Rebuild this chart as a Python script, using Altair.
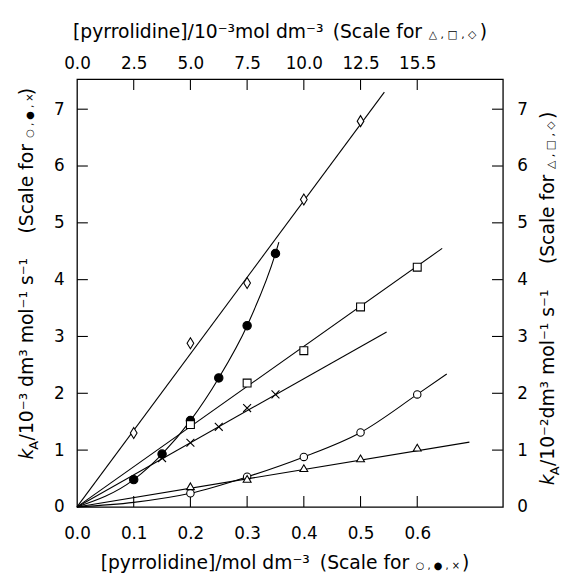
import altair as alt
import pandas as pd

# ---- data ----
# bottom / left scales (open circle, filled circle, cross)
circle_x = [0.2, 0.3, 0.4, 0.5, 0.6]
circle_y = [0.24, 0.53, 0.88, 1.31, 1.98]
dot_x = [0.1, 0.15, 0.2, 0.25, 0.3, 0.35]
dot_y = [0.48, 0.93, 1.52, 2.27, 3.19, 4.46]
cross_x = [0.15, 0.2, 0.25, 0.3, 0.35]
cross_y = [0.86, 1.13, 1.41, 1.74, 1.98]
# top / right scales (triangle, square, diamond)
tri_x = [5.0, 7.5, 10.0, 12.5, 15.0]
tri_y = [0.36, 0.49, 0.68, 0.85, 1.04]
sq_x = [5.0, 7.5, 10.0, 12.5, 15.0]
sq_y = [1.45, 2.18, 2.75, 3.52, 4.22]
dia_x = [2.5, 5.0, 7.5, 10.0, 12.5]
dia_y = [1.30, 2.88, 3.94, 5.41, 6.79]

# drawn fit curves
circle_fit_x = [0, 0.1, 0.2, 0.3, 0.4, 0.5, 0.6, 0.652]
circle_fit_y = [0, 0.08, 0.24, 0.53, 0.88, 1.31, 1.98, 2.34]
dot_fit_x = [0, 0.1, 0.15, 0.2, 0.25, 0.3, 0.35, 0.356]
dot_fit_y = [0, 0.48, 0.93, 1.52, 2.27, 3.19, 4.46, 4.66]
cross_fit_x = [0, 0.546]
cross_fit_y = [0, 3.08]
tri_fit_x = [0, 17.3]
tri_fit_y = [0, 1.14]
sq_fit_x = [0, 16.1]
sq_fit_y = [0, 4.55]
dia_fit_x = [0, 13.55]
dia_fit_y = [0, 7.30]

# axis ticks / labels
bottom_labels = [0.0, 0.1, 0.2, 0.3, 0.4, 0.5, 0.6]
bottom_ticks = [0.1, 0.2, 0.3, 0.4, 0.5, 0.6]
top_labels = [0.0, 2.5, 5.0, 7.5, 10.0, 12.5, 15.0]
top_ticks = [2.5, 5.0, 7.5, 10.0, 12.5, 15.0]
y_labels = [0, 1, 2, 3, 4, 5, 6, 7]
y_ticks = [1, 2, 3, 4, 5, 6, 7]

W, H = 432, 434
FONT = "DejaVu Sans"
FS = 17      # tick labels
TFS = 19     # axis titles
TL = 11      # inward tick length

XA = alt.Scale(domain=[0, 0.751], nice=False, zero=False)
YA = alt.Scale(domain=[0, 7.53], nice=False, zero=False)
XB = alt.Scale(domain=[0, 0.751 * 25], nice=False, zero=False)
YB = alt.Scale(domain=[0, 7.53], nice=False, zero=False)

common = dict(title=None, ticks=False, domain=False, grid=False, labelFont=FONT,
              labelFontSize=FS, labelColor="black", labelFlush=False,
              labelOverlap=False)
ax_bottom = alt.Axis(orient="bottom", values=bottom_labels, format=".1f",
                     labelPadding=32, labelBaseline="alphabetic", **common)
ax_left = alt.Axis(orient="left", values=y_labels, format="d", labelPadding=13,
                   **common)
ax_top = alt.Axis(orient="top", values=top_labels,
                  labelExpr="datum.value == 15 ? '15.5' : format(datum.value, '.1f')",
                  labelPadding=11, labelBaseline="alphabetic", **common)
ax_right = alt.Axis(orient="right", values=y_labels, format="d", labelPadding=14,
                    **common)


def frame(xs, ys):
    return pd.DataFrame({"x": xs, "y": ys})


def enc_xy(xsc, ysc, xax, yax):
    return dict(x=alt.X("x:Q", scale=xsc, axis=xax),
                y=alt.Y("y:Q", scale=ysc, axis=yax))


def line(xs, ys, xsc, ysc, xax, yax, interp="linear"):
    return alt.Chart(frame(xs, ys)).mark_line(
        color="black", strokeWidth=1.1, interpolate=interp
    ).encode(**enc_xy(xsc, ysc, xax, yax))


def pts(xs, ys, xsc, ysc, xax, yax, shape, size, fill="white"):
    return alt.Chart(frame(xs, ys)).mark_point(
        shape=shape, size=size, filled=True, fill=fill, stroke="black",
        strokeWidth=1.1, opacity=1
    ).encode(**enc_xy(xsc, ysc, xax, yax))


def xticks(vals, xsc, xax, top=False):
    d = pd.DataFrame({"x": vals})
    if top:
        yy, yy2 = alt.value(0), alt.value(TL)
    else:
        yy, yy2 = alt.value(H), alt.value(H - TL)
    return alt.Chart(d).mark_rule(color="black", strokeWidth=1.1).encode(
        x=alt.X("x:Q", scale=xsc, axis=xax), y=yy, y2=yy2)


def yticks(vals, ysc, yax, right=False):
    d = pd.DataFrame({"y": vals})
    if right:
        xx, xx2 = alt.value(W), alt.value(W - TL)
    else:
        xx, xx2 = alt.value(0), alt.value(TL)
    return alt.Chart(d).mark_rule(color="black", strokeWidth=1.1).encode(
        y=alt.Y("y:Q", scale=ysc, axis=yax), x=xx, x2=xx2)


def txt(s, x, y, size=TFS, angle=0, align="left", style="normal"):
    return alt.Chart(pd.DataFrame({"t": [s]})).mark_text(
        text=s, font=FONT, fontSize=size, angle=angle, align=align,
        baseline="alphabetic", fontStyle=style, color="black"
    ).encode(x=alt.value(x), y=alt.value(y))


DIAMOND = "M0,-1.4L0.85,0L0,1.4L-0.85,0Z"
TRIANGLE = "M0,-0.9L1,0.8L-1,0.8Z"
SQUARE = "M-1,-1L1,-1L1,1L-1,1Z"
CROSS = "M-1,-1L1,1M-1,1L1,-1"

SYM_A = "\u25cb , \u25cf , \u00d7"
SYM_B = "\u25b3 , \u25a1 , \u25c7"
SCALE = "(Scale for"

titles = [
    # bottom title
    txt("[pyrrolidine]/mol dm\u207b\u00b3", 24, 497),
    txt(SCALE, 337, 497, align="right"),
    txt(SYM_A, 366, 497, size=10, align="center"),
    txt(")", 398, 497, align="right"),
    # top title
    txt("[pyrrolidine]/10\u207b\u00b3mol dm\u207b\u00b3", -4, -42),
    txt(SCALE, 350, -42, align="right"),
    txt(SYM_B, 381, -42, size=11, align="center"),
    txt(")", 416, -42, align="right"),
    # left title (rotated)
    txt("k", -45, 386, angle=270, style="italic"),
    txt("A", -40, 376, size=13, angle=270),
    txt("/10\u207b\u00b3 dm\u00b3 mol\u207b\u00b9 s\u207b\u00b9", -45, 366.5, angle=270),
    txt(SCALE, -45, 66, angle=270, align="right"),
    txt(SYM_A, -45, 37, size=10, angle=270, align="center"),
    txt(")", -45, 9, angle=270, align="right"),
    # right title (rotated)
    txt("k", 484, 412, angle=270, style="italic"),
    txt("A", 489, 402, size=13, angle=270),
    txt("/10\u207b\u00b2dm\u00b3 mol\u207b\u00b9 s\u207b\u00b9", 484, 392.5, angle=270),
    txt(SCALE, 484, 97, angle=270, align="right"),
    txt(SYM_B, 484, 67, size=11, angle=270, align="center"),
    txt(")", 484, 33, angle=270, align="right"),
]

A = (XA, YA, ax_bottom, ax_left)
B = (XB, YB, ax_top, ax_right)

layer_a = alt.layer(
    line(circle_fit_x, circle_fit_y, *A, interp="monotone"),
    line(dot_fit_x, dot_fit_y, *A, interp="monotone"),
    line(cross_fit_x, cross_fit_y, *A),
    xticks(bottom_ticks, XA, ax_bottom),
    yticks(y_ticks, YA, ax_left),
    pts(circle_x, circle_y, *A, "circle", 57),
    pts(cross_x, cross_y, *A, CROSS, 64),
    pts(dot_x, dot_y, *A, "circle", 72, fill="black"),
    *titles,
)

layer_b = alt.layer(
    line(tri_fit_x, tri_fit_y, *B),
    line(sq_fit_x, sq_fit_y, *B),
    line(dia_fit_x, dia_fit_y, *B),
    xticks(top_ticks, XB, ax_top, top=True),
    yticks(y_ticks, YB, ax_right, right=True),
    pts(tri_x, tri_y, *B, TRIANGLE, 64),
    pts(sq_x, sq_y, *B, SQUARE, 64),
    pts(dia_x, dia_y, *B, DIAMOND, 64),
)

chart = alt.layer(layer_a, layer_b).resolve_scale(
    x="independent", y="independent"
).properties(
    width=W, height=H,
    padding={"left": 70, "top": 68, "right": 61, "bottom": 68},
    autosize=alt.AutoSizeParams(type="none"),
).configure_view(stroke="black", strokeWidth=1.3)

chart.save("out.html", embed_options={"renderer": "svg", "actions": False})
